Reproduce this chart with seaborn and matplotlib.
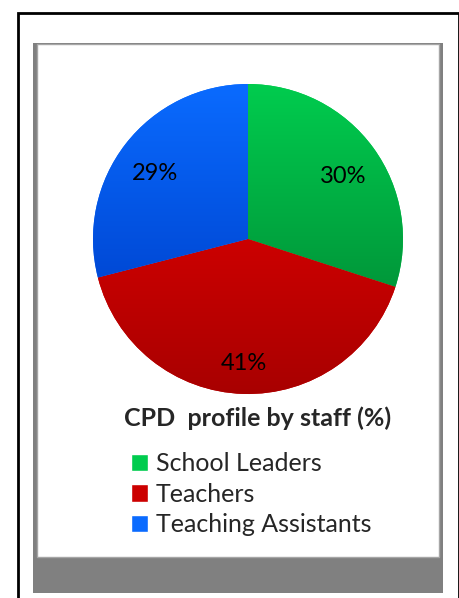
import numpy as np
import seaborn as sns
import matplotlib.pyplot as plt
import matplotlib.patches as mypatch
from matplotlib.colors import LinearSegmentedColormap

###### data ######
staff = ['School Leaders', 'Teachers', 'Teaching Assistants']
share = [30, 41, 29]
title = 'CPD  profile by staff (%)'

# top / bottom colour of the gradient fill per slice
col_top = ['#00CC4E', '#CC0000', '#0A6BFF']
col_bot = ['#00983A', '#A80000', '#0049D6']

###### setting ######
sns.set_style('white')
plt.rcParams['font.family'] = ['Lato', 'DejaVu Sans']

W, H = 460, 598
fig = plt.figure(figsize=(W / 100, H / 100), dpi=100)

def px(x, y, w, h):
    # pixel box (top-left origin) -> figure fraction
    return (x / W, 1 - (y + h) / H, w / W, h / H)

# outer black frame
x0, y0, w0, h0 = px(18, 13, 441, 600)
fig.patches.append(mypatch.Rectangle((x0, y0), w0, h0, transform=fig.transFigure,
                                     fill=False, edgecolor='black', linewidth=2, zorder=-1))
# grey panel + white inner area
x0, y0, w0, h0 = px(33, 43, 410, 550)
fig.patches.append(mypatch.Rectangle((x0, y0), w0, h0, transform=fig.transFigure,
                                     facecolor='#808080', edgecolor='none', zorder=-3))
x0, y0, w0, h0 = px(37, 44, 402, 513)
fig.patches.append(mypatch.Rectangle((x0, y0), w0, h0, transform=fig.transFigure,
                                     facecolor='white', edgecolor='#A6A6A6', linewidth=1, zorder=-2))

###### pie ######
ax = fig.add_axes(px(93, 84, 310, 310))
wedges, texts, autotexts = ax.pie(share, colors=col_top, startangle=90, counterclock=False,
                                  autopct='%d%%', pctdistance=0.76,
                                  textprops={'fontsize': 17, 'color': 'black'},
                                  wedgeprops={'linewidth': 0})
ax.set_aspect('equal')
ax.axis('off')

# vertical gradient inside each slice
grad = np.linspace(0, 1, 256).reshape(-1, 1)
for wdg, ct, cb in zip(wedges, col_top, col_bot):
    bb = wdg.get_path().get_extents(wdg.get_patch_transform())
    cmap = LinearSegmentedColormap.from_list('g', [ct, cb])
    im = ax.imshow(grad, cmap=cmap, aspect='auto',
                   extent=[bb.x0, bb.x1, bb.y0, bb.y1], zorder=1.5)
    im.set_clip_path(wdg)

# labels sit a little lower than matplotlib's default
for t in autotexts:
    tx, ty = t.get_position()
    t.set_position((tx, ty - 0.045))
    t.set_zorder(3)
ax.set_xlim(-1, 1)
ax.set_ylim(-1, 1)

###### title + legend ######
fig.text(258 / W, 1 - 418 / H, title, ha='center', va='center',
         fontsize=18, fontweight='bold')

handles = [mypatch.Patch(facecolor=c, label=s) for c, s in zip(col_top, staff)]
fig.legend(handles=handles, loc='upper left', bbox_to_anchor=(121 / W, 1 - 442 / H),
           frameon=False, fontsize=18, handlelength=0.7, handleheight=0.7,
           handletextpad=0.3, labelspacing=0.3, borderaxespad=0)

fig.savefig('out.png', dpi=100)
